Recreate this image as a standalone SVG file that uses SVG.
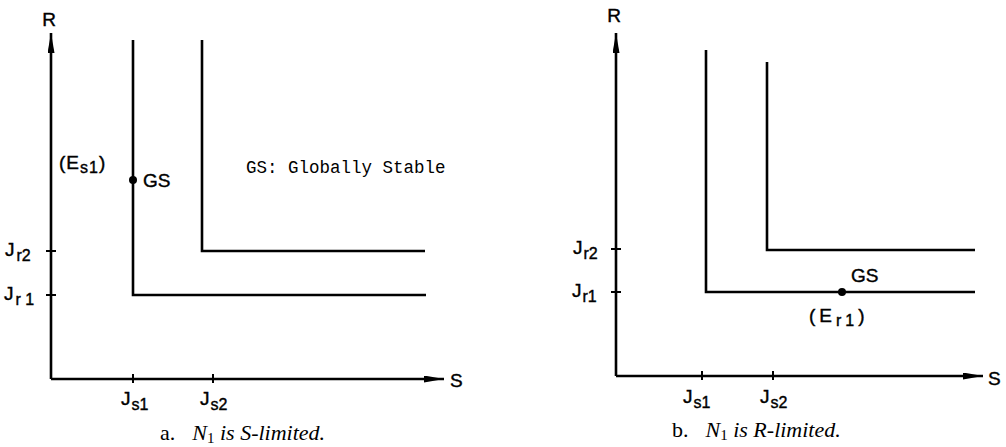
<svg xmlns="http://www.w3.org/2000/svg" width="1006" height="447" viewBox="0 0 1006 447">
<style>
.ax{stroke:#000;stroke-width:2.6;fill:none}
.ln{stroke:#000;stroke-width:2.6;fill:none}
.tk{stroke:#000;stroke-width:2}
.lb{font-family:"Liberation Sans",Arial,sans-serif;font-size:19px;fill:#000;stroke:#000;stroke-width:0.4}
.sb{font-size:16px}
.mono{font-family:"Liberation Mono","Courier New",monospace;font-size:17.5px;fill:#000}
.cap{font-family:"Liberation Serif","Times New Roman",serif;font-size:22px;fill:#000}
</style>
<defs>
<marker id="ah" viewBox="0 0 20 7" refX="20" refY="3.5" markerWidth="20" markerHeight="7" markerUnits="userSpaceOnUse" orient="auto">
<path d="M0,0 L20,3.5 L0,7 Z" fill="#000"/>
</marker>
</defs>

<g id="panel-a">
<g id="connectors-a">
<path class="ax" d="M51,379 V33" marker-end="url(#ah)"/>
<path class="ax" d="M51,379 H444" marker-end="url(#ah)"/>
<line class="tk" x1="46" y1="251" x2="56" y2="251"/>
<line class="tk" x1="46" y1="295" x2="56" y2="295"/>
<line class="tk" x1="133" y1="374" x2="133" y2="383"/>
<line class="tk" x1="213" y1="374" x2="213" y2="383"/>
<path class="ln" d="M133,40 V295 H426"/>
<path class="ln" d="M202,40 V251 H425"/>
</g>
<g id="gs-a">
<circle cx="133" cy="180" r="4" fill="#000"/>
<text class="lb" x="143" y="187">GS</text>
<text class="lb" x="59" y="169" letter-spacing="1">(E<tspan class="sb" dy="4">s1</tspan><tspan dy="-4">)</tspan></text>
</g>
<text class="lb" x="49" y="26" text-anchor="middle">R</text>
<text class="lb" x="450" y="387">S</text>
<text class="lb" x="5" y="256">J<tspan class="sb" dx="2" dy="5">r2</tspan></text>
<text class="lb" x="4" y="300">J<tspan class="sb" dx="2" dy="5">r 1</tspan></text>
<text class="lb" x="121" y="405">J<tspan class="sb" dx="1" dy="5">s1</tspan></text>
<text class="lb" x="200" y="405">J<tspan class="sb" dx="1" dy="5">s2</tspan></text>
<text class="mono" x="246" y="173">GS: Globally Stable</text>
<text class="cap" x="160" y="440">a.<tspan dx="17" font-style="italic">N</tspan><tspan font-size="15" dy="3">1</tspan><tspan dy="-3" font-style="italic"> is S-limited.</tspan></text>
</g>

<g id="panel-b">
<g id="connectors-b">
<path class="ax" d="M616,376 V33" marker-end="url(#ah)"/>
<path class="ax" d="M616,376 H983" marker-end="url(#ah)"/>
<line class="tk" x1="611" y1="249" x2="621" y2="249"/>
<line class="tk" x1="611" y1="292" x2="621" y2="292"/>
<line class="tk" x1="702" y1="371" x2="702" y2="380"/>
<line class="tk" x1="773" y1="371" x2="773" y2="380"/>
<path class="ln" d="M706,50 V292 H975"/>
<path class="ln" d="M767,62 V250 H975"/>
</g>
<g id="gs-b">
<circle cx="842" cy="292" r="4" fill="#000"/>
<text class="lb" x="851" y="282">GS</text>
<text class="lb" x="809" y="322" letter-spacing="4">(E<tspan class="sb" dy="4">r1</tspan><tspan dy="-4">)</tspan></text>
</g>
<text class="lb" x="614" y="22" text-anchor="middle">R</text>
<text class="lb" x="988" y="385">S</text>
<text class="lb" x="573" y="254">J<tspan class="sb" dx="1" dy="5">r2</tspan></text>
<text class="lb" x="572" y="297">J<tspan class="sb" dx="1" dy="5">r1</tspan></text>
<text class="lb" x="683" y="403">J<tspan class="sb" dx="1" dy="5">s1</tspan></text>
<text class="lb" x="760" y="403">J<tspan class="sb" dx="1" dy="5">s2</tspan></text>
<text class="cap" x="672" y="437">b.<tspan dx="17" font-style="italic">N</tspan><tspan font-size="15" dy="3">1</tspan><tspan dy="-3" font-style="italic"> is R-limited.</tspan></text>
</g>
</svg>
